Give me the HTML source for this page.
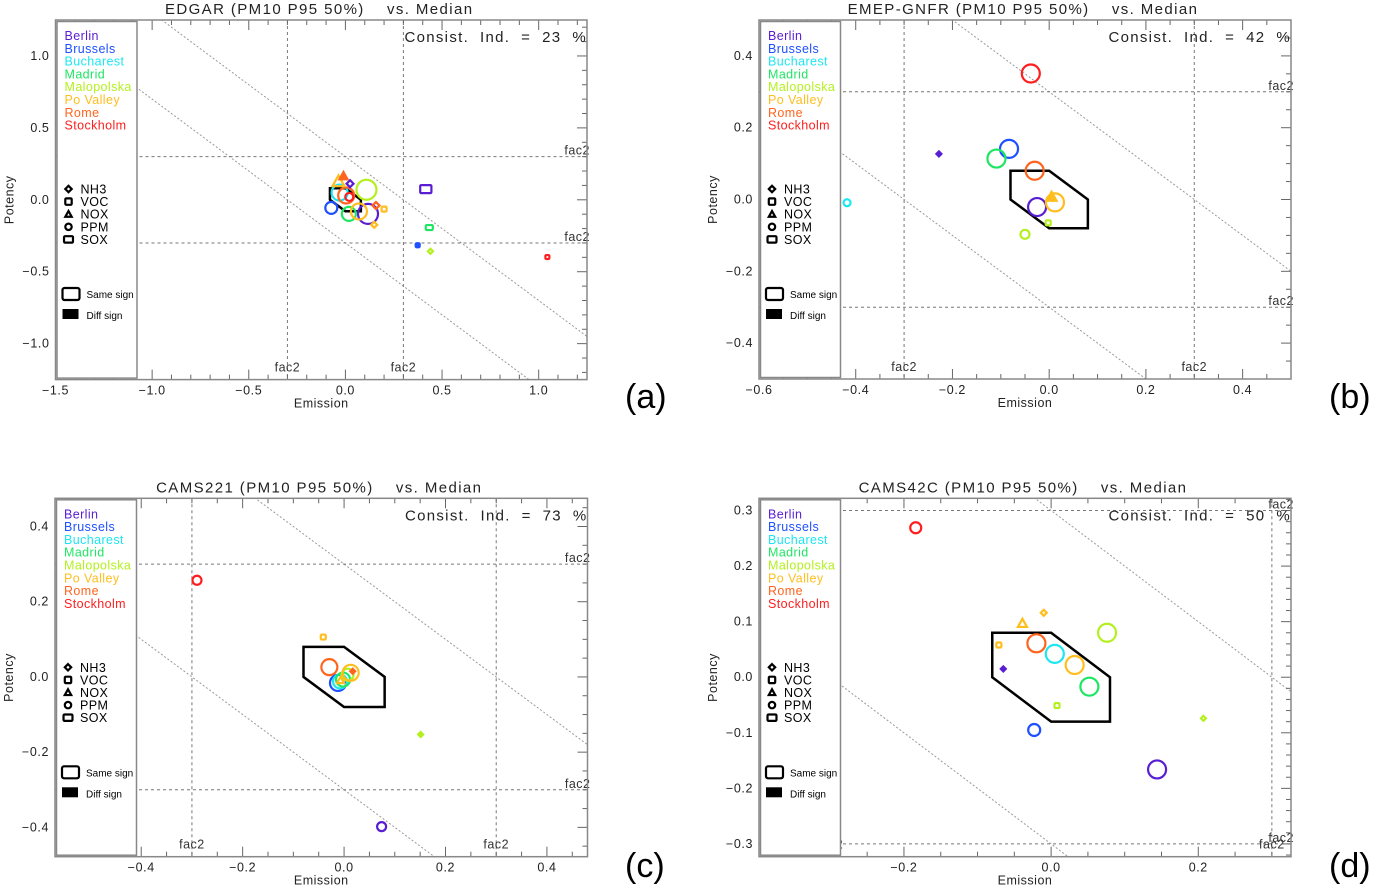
<!DOCTYPE html>
<html><head><meta charset="utf-8"><style>
html,body{margin:0;padding:0;background:#fff;width:1374px;height:889px;overflow:hidden;}
svg{display:block;font-family:"Liberation Sans",sans-serif;}
</style></head><body>
<svg id="fig" width="1374" height="889" viewBox="0 0 1374 889" xmlns="http://www.w3.org/2000/svg"></svg>
<script>
// ---------- data ----------
const cityNames = ["Berlin","Brussels","Bucharest","Madrid","Malopolska","Po Valley","Rome","Stockholm"];
const cityColors = ["#5a1ed2","#1e50ff","#1ee6f0","#1ee664","#b4f01e","#ffbe1e","#ff641e","#ff1e1e"];
const speciesNames = ["NH3","VOC","NOX","PPM","SOX"];
const panelTitles = ["EDGAR (PM10 P95 50%)    vs. Median","EMEP-GNFR (PM10 P95 50%)    vs. Median","CAMS221 (PM10 P95 50%)    vs. Median","CAMS42C (PM10 P95 50%)    vs. Median"];
const consistIdx = [23,42,73,50];
const panelLetters = ["(a)","(b)","(c)","(d)"];

const xTicksA = [-1.5,-1.0,-0.5,0.0,0.5,1.0];
const yTicksA = [-1.0,-0.5,0.0,0.5,1.0];
const xTicksB = [-0.6,-0.4,-0.2,0.0,0.2,0.4];
const yTicksB = [-0.4,-0.2,0.0,0.2,0.4];
const xTicksC = [-0.4,-0.2,0.0,0.2,0.4];
const yTicksC = [-0.4,-0.2,0.0,0.2,0.4];
const xTicksD = [-0.2,0.0,0.2];
const yTicksD = [-0.3,-0.2,-0.1,0.0,0.1,0.2,0.3];

// panel (a) points: city index, species index, emission, potency, size, filled
const aCity = [0,1,3,4,7,0,4,1,3,5,2,6,7,5,6,0,6,5,5];
const aSpec = [4,1,4,0,1,3,3,3,3,3,3,3,3,2,2,0,0,1,0];
const aX    = [0.416,0.374,0.434,0.44,1.045,0.117,0.109,-0.073,0.018,0.07,-0.03,0.004,0.02,-0.036,-0.01,0.024,0.158,0.2,0.149];
const aY    = [0.074,-0.316,-0.193,-0.358,-0.398,-0.098,0.07,-0.056,-0.098,-0.081,0.05,0.03,0.02,0.128,0.165,0.112,-0.04,-0.065,-0.174];
const aSize = [4,2,2.5,2.5,2,10,10,6,7,8,8,8,4,6,4,3.5,3.5,2.5,3];
const aFill = [0,1,0,0,0,0,0,0,0,0,0,0,0,0,1,0,0,0,0];

const bCity = [7,1,3,6,0,5,5,4,4,0,2];
const bSpec = [3,3,3,3,3,3,2,1,3,0,3];
const bX    = [-0.038,-0.083,-0.109,-0.03,-0.025,0.012,0.005,-0.002,-0.05,-0.228,-0.418];
const bY    = [0.351,0.141,0.114,0.08,-0.021,-0.008,0.0075,-0.065,-0.097,0.127,-0.009];
const bSize = [9,9,9,9,9,9,5,2.5,4.5,2.5,3.5];
const bFill = [0,0,0,0,0,0,1,0,0,1,0];

const cCity = [7,5,6,1,2,3,4,5,5,6,4,0];
const cSpec = [3,1,3,3,3,3,3,3,2,0,0,3];
const cX    = [-0.29,-0.041,-0.029,-0.012,-0.008,-0.002,0.007,0.013,-0.007,0.017,0.151,0.074];
const cY    = [0.257,0.106,0.026,-0.016,-0.012,-0.007,0.006,0.011,-0.009,0.015,-0.153,-0.398];
const cSize = [4.5,2.5,8,8,7,7,6,8,3.5,2.5,2.5,4.5];
const cFill = [0,0,0,0,0,0,0,0,0,1,1,0];

const dCity = [7,5,5,4,6,5,2,5,0,3,4,1,4,0];
const dSpec = [3,0,2,3,3,1,3,3,0,3,1,3,0,3];
const dX    = [-0.184,-0.01,-0.039,0.076,-0.02,-0.071,0.005,0.032,-0.065,0.052,0.008,-0.023,0.207,0.144];
const dY    = [0.269,0.116,0.097,0.08,0.061,0.058,0.042,0.022,0.015,-0.017,-0.051,-0.095,-0.074,-0.166];
const dSize = [5.5,3,4.5,9,9,2.5,9,9,2.5,9,2.5,6,2.5,9];
const dFill = [0,0,0,0,0,0,0,0,1,0,0,0,0,0];

const hexX = [-0.08,0,0.08,0.08,0,-0.08];
const hexY = [0.08,0.08,0,-0.08,-0.08,0];
const fac2 = 0.3;

// ---------- layout (pixels) ----------
const panels = [
 {px0:55.5,px1:587,py0:20,py1:379.6,xmin:-1.5,xmax:1.25,ymin:-1.25,ymax:1.25,xmaj:xTicksA,ymaj:yTicksA,xmin_:0.1,ymin_:0.1,C:aCity,S:aSpec,X:aX,Y:aY,Z:aSize,F:aFill,lx:625,ly:408},
 {px0:759,px1:1291,py0:20,py1:379,xmin:-0.6,xmax:0.5,ymin:-0.5,ymax:0.5,xmaj:xTicksB,ymaj:yTicksB,xmin_:0.05,ymin_:0.05,C:bCity,S:bSpec,X:bX,Y:bY,Z:bSize,F:bFill,lx:1329,ly:408},
 {px0:55,px1:587.5,py0:498.3,py1:856.7,xmin:-0.57,xmax:0.48,ymin:-0.478,ymax:0.475,xmaj:xTicksC,ymaj:yTicksC,xmin_:0.05,ymin_:0.05,C:cCity,S:cSpec,X:cX,Y:cY,Z:cSize,F:cFill,lx:625,ly:877},
 {px0:759,px1:1291,py0:498.3,py1:856.7,xmin:-0.397,xmax:0.326,ymin:-0.323,ymax:0.322,xmaj:xTicksD,ymaj:yTicksD,xmin_:0.05,ymin_:0.02,C:dCity,S:dSpec,X:dX,Y:dY,Z:dSize,F:dFill,lx:1329,ly:877}
];

const NS="http://www.w3.org/2000/svg";
const fig=document.getElementById('fig');
function mk(tag,attrs,parent){const e=document.createElementNS(NS,tag);for(const k in attrs)e.setAttribute(k,attrs[k]);(parent||fig).appendChild(e);return e;}
function fmt(v){const s=Math.abs(v).toFixed(1);return (v<-1e-9?"\u2212":"")+s;}

function marker(g,sp,cx,cy,s,col,filled){
  const sw=2.2, fill=filled?col:"none";
  let e;
  if(sp===3){e=mk('circle',{cx:cx,cy:cy,r:s,fill:fill,stroke:col,'stroke-width':sw},g);}
  else if(sp===0){e=mk('polygon',{points:`${cx},${cy-s} ${cx+s},${cy} ${cx},${cy+s} ${cx-s},${cy}`,fill:fill,stroke:col,'stroke-width':sw},g);}
  else if(sp===1){e=mk('rect',{x:cx-s,y:cy-s,width:2*s,height:2*s,rx:1,fill:fill,stroke:col,'stroke-width':sw},g);}
  else if(sp===2){e=mk('polygon',{points:`${cx},${cy-s} ${cx+s},${cy+s*0.8} ${cx-s},${cy+s*0.8}`,fill:fill,stroke:col,'stroke-width':sw},g);}
  else {e=mk('rect',{x:cx-1.4*s,y:cy-s,width:2.8*s,height:2*s,rx:1,fill:fill,stroke:col,'stroke-width':sw},g);}
  return e;
}

panels.forEach((p,pi)=>{
  const sx=v=>p.px0+(v-p.xmin)/(p.xmax-p.xmin)*(p.px1-p.px0);
  const sy=v=>p.py1-(v-p.ymin)/(p.ymax-p.ymin)*(p.py1-p.py0);
  const g=mk('g',{});
  
  
  const cid='clip'+pi;
  const defs=mk('defs',{},g);
  const cp=mk('clipPath',{id:cid},defs);
  mk('rect',{x:p.px0,y:p.py0,width:p.px1-p.px0,height:p.py1-p.py0},cp);
  const inner=mk('g',{'clip-path':`url(#${cid})`},g);

  [fac2,-fac2].forEach(c=>{
    const l=mk('line',{x1:sx(p.xmin),y1:sy(c-p.xmin),x2:sx(p.xmax),y2:sy(c-p.xmax),stroke:'#999','stroke-width':1,'stroke-dasharray':'2,2'},inner);
    
    
  });
  [fac2,-fac2].forEach(c=>{
    const v=mk('line',{x1:sx(c),y1:p.py0,x2:sx(c),y2:p.py1,stroke:'#777','stroke-width':1,'stroke-dasharray':'3,3'},inner);
    
    
    const h=mk('line',{x1:p.px0,y1:sy(c),x2:p.px1,y2:sy(c),stroke:'#777','stroke-width':1,'stroke-dasharray':'3,3'},inner);
    
    
  });
  const hp=hexX.map((x,i)=>sx(x)+','+sy(hexY[i])).join(' ');
  const hex=mk('polygon',{points:hp,fill:'none',stroke:'#000','stroke-width':2.5},inner);
  
  
  p.X.forEach((xv,i)=>{
    const m=marker(inner,p.S[i],sx(xv),sy(p.Y[i]),p.Z[i],cityColors[p.C[i]],p.F[i]);
    
    
  });
  [fac2,-fac2].forEach(c=>{
    const t=mk('text',{x:sx(c),y:p.py1-8,'font-size':12.5,'letter-spacing':0.5,'text-anchor':'middle',fill:'#333'},g);t.textContent='fac2';
    
    
    const t2=mk('text',{x:p.px1+3,y:sy(c)-2,'font-size':12.5,'letter-spacing':0.5,'text-anchor':'end',fill:'#333'},g);t2.textContent='fac2';
    
    
  });
  const tk=mk('g',{stroke:'#666','stroke-width':1},g);
  for(let v=Math.ceil(p.xmin/p.xmin_-1e-6)*p.xmin_; v<=p.xmax+1e-9; v+=p.xmin_){
    const maj=p.xmaj.some(t=>Math.abs(t-v)<1e-6), L=maj?10:5;
    mk('line',{x1:sx(v),y1:p.py1,x2:sx(v),y2:p.py1-L},tk);
    mk('line',{x1:sx(v),y1:p.py0,x2:sx(v),y2:p.py0+L},tk);
  }
  for(let v=Math.ceil(p.ymin/p.ymin_-1e-6)*p.ymin_; v<=p.ymax+1e-9; v+=p.ymin_){
    const maj=p.ymaj.some(t=>Math.abs(t-v)<1e-6), L=maj?10:5;
    mk('line',{x1:p.px1,y1:sy(v),x2:p.px1-L,y2:sy(v)},tk);
  }
  const fr=mk('rect',{x:p.px0,y:p.py0,width:p.px1-p.px0,height:p.py1-p.py0,fill:'none',stroke:'#888','stroke-width':1.5},g);
  
  
  const lg=mk('g',{},g);
  
  
  mk('rect',{x:p.px0+1.5,y:p.py0+1.5,width:80,height:p.py1-p.py0-3,fill:'#fff',stroke:'#888','stroke-width':1.5},lg);
  cityNames.forEach((c,i)=>{
    const t=mk('text',{x:p.px0+9,y:p.py0+20+i*12.8,'font-size':12.5,'letter-spacing':0.4,fill:cityColors[i]},lg);t.textContent=c;
    
    
  });
  speciesNames.forEach((s,i)=>{
    const cy=p.py0+169+i*12.6;
    marker(lg,i,p.px0+13,cy,3.2,'#000',0);
    const t=mk('text',{x:p.px0+25,y:cy+4.5,'font-size':12.5,'letter-spacing':0.4,fill:'#000'},lg);t.textContent=s;
    
    
  });
  mk('rect',{x:p.px0+7,y:p.py0+268,width:17,height:12,rx:2,fill:'none',stroke:'#000','stroke-width':2.2},lg);
  const ss=mk('text',{x:p.px0+31,y:p.py0+278,'font-size':10,fill:'#000'},lg);ss.textContent='Same sign';
  
  
  mk('rect',{x:p.px0+7,y:p.py0+289,width:16,height:10,fill:'#000'},lg);
  const ds=mk('text',{x:p.px0+31,y:p.py0+299,'font-size':10,fill:'#000'},lg);ds.textContent='Diff sign';
  
  
  p.xmaj.forEach(v=>{
    const t=mk('text',{x:sx(v),y:p.py1+15,'font-size':12.5,'letter-spacing':0.6,'text-anchor':'middle',fill:'#222'},g);t.textContent=fmt(v);
    
    
  });
  p.ymaj.forEach(v=>{
    const t=mk('text',{x:p.px0-6,y:sy(v)+4,'font-size':12.5,'letter-spacing':0.6,'text-anchor':'end',fill:'#222'},g);t.textContent=fmt(v);
    
    
  });
  const mid=(p.px0+p.px1)/2;
  const xt=mk('text',{x:mid,y:p.py1+28,'font-size':12.5,'letter-spacing':0.5,'text-anchor':'middle',fill:'#222'},g);xt.textContent='Emission';
  
  
  const ymid=(p.py0+p.py1)/2, yx=p.px0-42;
  const yt=mk('text',{x:yx,y:ymid,'font-size':12.5,'letter-spacing':0.5,'text-anchor':'middle',fill:'#222',transform:`rotate(-90 ${yx} ${ymid})`},g);yt.textContent='Potency';
  
  
  const tt=mk('text',{x:mid-2,y:p.py0-6,'font-size':15,'letter-spacing':1.4,'text-anchor':'middle',fill:'#222'},g);
  tt.style.whiteSpace='pre';tt.textContent=panelTitles[pi];
  
  
  const ci=mk('text',{x:p.px1,y:p.py0+22,'font-size':15,'letter-spacing':1.3,'text-anchor':'end',fill:'#222'},g);
  ci.style.whiteSpace='pre';ci.textContent='Consist.  Ind.  =  '+consistIdx[pi]+'  %';
  
  
  const pl=mk('text',{x:p.lx,y:p.ly,'font-size':34,fill:'#000'},g);pl.textContent=panelLetters[pi];
  
  
});
</script>
</body></html>
